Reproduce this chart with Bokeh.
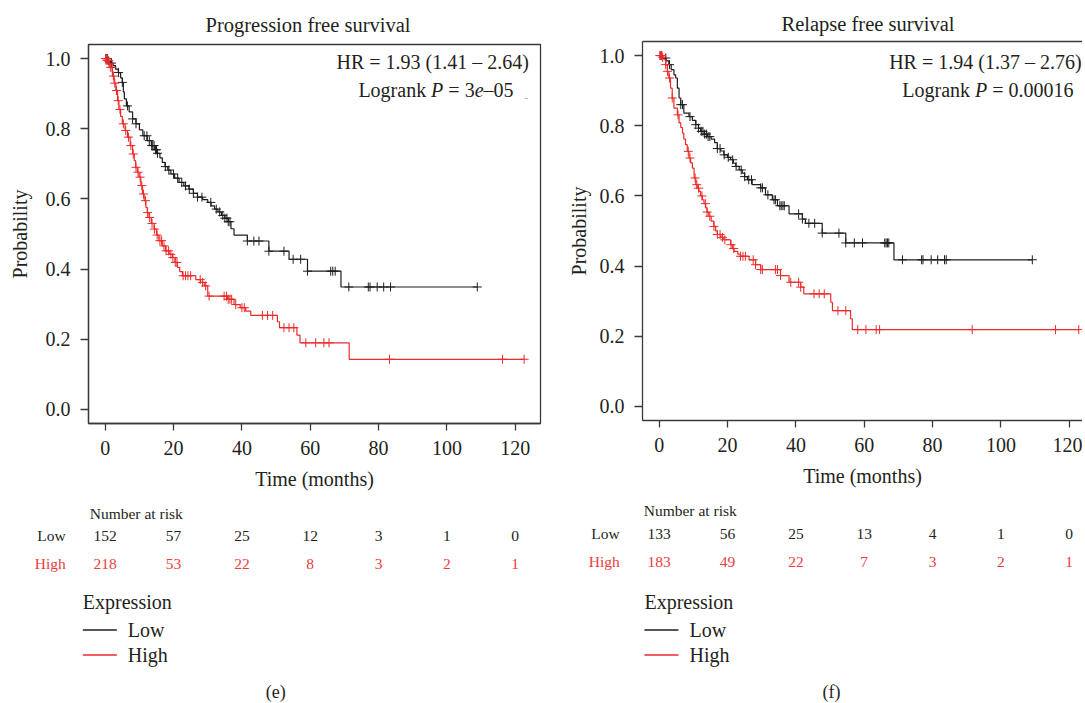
import numpy as np
from bokeh.plotting import figure
from bokeh.layouts import row, column
from bokeh.models import Range1d, FixedTicker, NumeralTickFormatter, LinearAxis
from bokeh.core.properties import value
from bokeh.embed import file_html
from bokeh.resources import INLINE

# ---------------- data ----------------
time_ticks = [0, 20, 40, 60, 80, 100, 120]
prob_ticks = [0.0, 0.2, 0.4, 0.6, 0.8, 1.0]

# (e) Progression free survival
pfs_low_t = [0, 0.8, 1.5, 2.3, 3.0, 3.8, 4.5, 5.0, 5.3, 5.6, 6.2, 7.0, 8.0, 9.0, 10.0, 11.0, 12.3,
             13.5, 14.5, 15.3, 16.0, 16.7, 17.5, 18.3, 19.2, 20.3, 21.6, 23.0, 24.5, 25.8, 27.0,
             28.5, 30.0, 31.0, 32.0, 33.0, 34.0, 35.0, 36.0, 36.8, 37.7, 41.6, 47.9, 53.8, 59.2, 69.0]
pfs_low_s = [1.0, 0.993, 0.987, 0.980, 0.970, 0.960, 0.945, 0.932, 0.905, 0.885, 0.865, 0.848, 0.828,
             0.814, 0.797, 0.780, 0.766, 0.752, 0.740, 0.730, 0.717, 0.704, 0.692, 0.682, 0.671, 0.659,
             0.647, 0.637, 0.628, 0.616, 0.605, 0.598, 0.590, 0.580, 0.571, 0.563, 0.553, 0.545, 0.535,
             0.515, 0.497, 0.480, 0.451, 0.428, 0.394, 0.349]
pfs_low_end = 108.9
pfs_low_cens = [0.3, 0.6, 1.0, 1.8, 3.9, 5.0, 6.5, 8.0, 9.0, 11.4, 12.2, 12.9, 13.6, 13.9, 14.3, 14.7,
                15.0, 15.3, 17.6, 18.6, 20.0, 21.2, 22.4, 23.5, 24.6, 25.8, 27.0, 28.3, 30.9, 32.5, 33.5,
                34.4, 35.0, 35.6, 36.0, 36.5, 41.6, 43.5, 45.0, 47.9, 52.3, 55.0, 57.2, 59.2, 66.0, 66.6,
                67.3, 71.3, 77.0, 77.5, 79.6, 81.5, 83.5, 108.9]

pfs_high_t = [0, 0.5, 1.0, 1.6, 2.1, 2.6, 3.1, 3.6, 4.0, 4.5, 5.0, 5.8, 6.5, 7.3, 8.0, 8.5, 8.9, 9.4,
              9.9, 10.4, 10.9, 11.4, 11.9, 12.3, 12.8, 13.5, 14.3, 15.0, 15.7, 16.7, 17.7, 18.7, 19.7,
              20.4, 21.1, 21.8, 22.6, 26.5, 27.9, 29.0, 30.0, 35.8, 37.7, 39.5, 41.1, 42.6, 50.4, 51.0,
              56.1, 57.0, 71.4]
pfs_high_s = [1.0, 0.995, 0.985, 0.975, 0.950, 0.930, 0.909, 0.880, 0.855, 0.835, 0.814, 0.795, 0.776,
              0.752, 0.728, 0.709, 0.690, 0.676, 0.662, 0.638, 0.614, 0.595, 0.576, 0.561, 0.547, 0.530,
              0.514, 0.497, 0.481, 0.466, 0.452, 0.442, 0.433, 0.419, 0.405, 0.393, 0.381, 0.370, 0.362,
              0.352, 0.323, 0.314, 0.299, 0.290, 0.280, 0.268, 0.250, 0.233, 0.212, 0.190, 0.143]
pfs_high_end = 122.6
pfs_high_cens = [0.1, 0.3, 0.5, 0.8, 1.2, 1.6, 2.0, 2.4, 2.8, 3.3, 3.8, 4.3, 5.3, 6.0, 6.8, 7.5, 8.2,
                 9.0, 9.6, 10.2, 10.7, 11.2, 11.8, 12.4, 13.0, 13.7, 14.4, 15.2, 16.0, 16.5, 17.2, 17.8,
                 18.5, 19.2, 19.8, 20.5, 21.0, 22.8, 23.5, 24.2, 25.0, 27.8, 28.5, 29.4, 30.4, 34.8,
                 35.5, 36.0, 36.5, 37.0, 38.2, 40.0, 40.7, 46.0, 47.5, 49.0, 52.3, 53.8, 55.2, 58.7,
                 61.6, 64.0, 65.5, 83.2, 116.3, 122.6]

pfs_risk_low = [152, 57, 25, 12, 3, 1, 0]
pfs_risk_high = [218, 53, 22, 8, 3, 2, 1]

# (f) Relapse free survival
rfs_low_t = [0, 1.0, 2.0, 2.8, 3.5, 4.3, 4.8, 5.3, 5.8, 6.3, 7.2, 8.7, 9.7, 10.7, 11.5, 12.1, 13.2,
             14.1, 15.2, 16.2, 17.0, 18.0, 18.9, 20.0, 20.9, 21.7, 22.4, 23.4, 24.3, 25.0, 25.8, 27.2,
             29.7, 31.1, 33.1, 34.6, 38.0, 41.9, 42.8, 47.7, 54.6, 68.7]
rfs_low_s = [1.0, 0.993, 0.985, 0.974, 0.960, 0.945, 0.936, 0.907, 0.879, 0.860, 0.836, 0.826, 0.815,
             0.803, 0.793, 0.784, 0.776, 0.769, 0.762, 0.752, 0.735, 0.728, 0.717, 0.710, 0.703, 0.693,
             0.684, 0.674, 0.665, 0.655, 0.646, 0.632, 0.623, 0.603, 0.589, 0.572, 0.549, 0.534, 0.522,
             0.494, 0.466, 0.418]
rfs_low_end = 109.2
rfs_low_cens = [0.3, 0.7, 1.9, 3.0, 6.3, 6.8, 9.0, 10.7, 11.5, 12.3, 12.8, 13.3, 13.8, 14.3, 14.8, 17.0,
                17.8, 19.0, 20.2, 21.5, 22.5, 24.0, 25.0, 26.2, 27.0, 29.7, 30.2, 31.8, 33.6, 34.0, 35.3,
                35.7, 36.2, 36.6, 40.8, 41.9, 43.8, 45.5, 47.7, 52.6, 54.6, 57.1, 59.5, 66.0, 66.4, 66.8,
                67.2, 71.2, 76.8, 77.2, 79.6, 81.5, 83.5, 84.0, 109.2]

rfs_high_t = [0, 0.8, 1.4, 1.9, 2.4, 2.8, 3.3, 3.8, 4.3, 5.3, 5.8, 6.3, 6.8, 7.2, 7.7, 8.2, 8.7, 9.2,
              9.7, 10.2, 10.7, 11.1, 11.6, 12.1, 12.6, 13.1, 13.6, 14.0, 14.5, 15.2, 16.0, 16.5, 17.0,
              18.0, 18.9, 20.9, 21.4, 21.9, 23.0, 23.8, 26.3, 28.2, 29.7, 35.5, 38.0, 41.4, 42.3, 50.2,
              50.7, 56.0, 56.5]
rfs_high_s = [1.0, 0.995, 0.988, 0.974, 0.955, 0.936, 0.907, 0.879, 0.850, 0.831, 0.808, 0.795, 0.779,
              0.762, 0.746, 0.727, 0.708, 0.694, 0.679, 0.651, 0.632, 0.622, 0.613, 0.600, 0.589, 0.578,
              0.566, 0.554, 0.542, 0.528, 0.513, 0.500, 0.490, 0.482, 0.475, 0.461, 0.450, 0.442, 0.434,
              0.428, 0.418, 0.404, 0.390, 0.373, 0.354, 0.340, 0.321, 0.297, 0.273, 0.250, 0.219]
rfs_high_end = 122.8
rfs_high_cens = [0.2, 0.4, 0.7, 1.0, 1.9, 2.4, 3.0, 3.8, 5.5, 8.5, 9.0, 10.5, 11.0, 11.5, 12.5, 13.5,
                 14.0, 14.8, 16.0, 17.0, 17.8, 18.5, 19.2, 21.0, 21.8, 23.8, 24.5, 25.2, 27.5, 28.2,
                 29.7, 30.2, 34.0, 34.6, 35.5, 38.5, 40.8, 41.4, 45.3, 46.8, 48.3, 52.3, 54.6, 58.1,
                 60.5, 63.5, 64.5, 91.6, 116.0, 122.8]

rfs_risk_low = [133, 56, 25, 13, 4, 1, 0]
rfs_risk_high = [183, 49, 22, 7, 3, 2, 1]

# ---------------- style ----------------
FONT = value("Liberation Serif")
FNAME = "Liberation Serif"
TXT = "#231f20"
AX = "#3a3a3a"
BLACK = "#1e1e1e"
RED = "#ec2b2b"
RED_TXT = "#ec3c3c"

X0 = -4.9
FRAME_H = 379
SCALE = 452 / (127.4 - X0)   # px per month (shared by both panels)
TABLE_H = 208


def step_value(times, surv, t):
    idx = np.searchsorted(np.asarray(times), np.asarray(t), side="right") - 1
    return np.asarray(surv)[idx]


def text_piece(p, x, y, s, size, color, align="right", xo=0, yo=0, style="normal"):
    p.text(x=[x], y=[y], text=[s], text_font=FONT, text_font_size=size, text_color=color,
           text_align=align, text_baseline="middle", x_offset=xo, y_offset=yo, text_font_style=style)


def x_end(cfg):
    return X0 + cfg["frame_w"] / SCALE


def km_figure(cfg):
    fw = cfg["frame_w"]
    p = figure(frame_width=fw, frame_height=FRAME_H,
               x_range=Range1d(X0, x_end(cfg)), y_range=Range1d(-0.04, 1.04),
               min_border_left=cfg["bl"], min_border_right=cfg["br"],
               min_border_top=cfg["bt"], min_border_bottom=cfg["bb"],
               toolbar_location=None, output_backend="svg", title=cfg["title"])
    p.frame_align = False
    p.title.text_font = FNAME
    p.title.text_font_size = "20.5px"
    p.title.text_font_style = "normal"
    p.title.text_color = TXT
    p.title.align = "left"
    p.title.offset = cfg["title_off"]
    p.title.standoff = cfg["title_standoff"]
    p.grid.visible = False
    p.outline_line_color = AX if cfg["outline"] else None
    p.outline_line_width = 1.3

    for ax in (p.xaxis[0], p.yaxis[0]):
        ax.axis_line_color = AX
        ax.axis_line_width = 1.3
        ax.major_tick_line_color = AX
        ax.major_tick_line_width = 1.3
        ax.major_tick_in = 0
        ax.minor_tick_line_color = None
        ax.major_label_text_font = FNAME
        ax.major_label_text_font_size = "20px"
        ax.major_label_text_color = TXT
        ax.axis_label_text_font = FNAME
        ax.axis_label_text_font_size = "20px"
        ax.axis_label_text_font_style = "normal"
        ax.axis_label_text_color = TXT
    xa = p.xaxis[0]
    xa.ticker = FixedTicker(ticks=time_ticks)
    xa.axis_label = "Time (months)"
    xa.major_tick_out = 7
    xa.major_label_standoff = 10
    xa.axis_label_standoff = 10
    ya = p.yaxis[0]
    ya.ticker = FixedTicker(ticks=prob_ticks)
    ya.formatter = NumeralTickFormatter(format="0.0")
    ya.axis_label = "Probability"
    ya.major_tick_out = 8
    ya.major_label_standoff = 10
    ya.axis_label_standoff = cfg["ylab_standoff"]

    if not cfg["outline"]:
        top = LinearAxis(ticker=FixedTicker(ticks=[]), major_tick_out=0, major_tick_in=0,
                         major_label_standoff=0, axis_line_color=AX, axis_line_width=1.3,
                         major_label_text_font_size="0px", minor_tick_line_color=None)
        p.add_layout(top, "above")

    for t, s, end, cens, col in cfg["curves"]:
        xs = list(t) + [end]
        ys = list(s) + [s[-1]]
        p.step(x=xs, y=ys, mode="after", line_color=col, line_width=1.2)
        cy = step_value(t, s, cens)
        p.scatter(x=cens, y=cy, marker="cross", size=9, line_color=col, line_width=1.0)

    text_piece(p, 0, 1.04, cfg["hr"], "20px", TXT, "right", cfg["hr_x"], cfg["hr_y"])
    E = cfg["lr_x"]
    for s, off, style in cfg["lr_pieces"]:
        text_piece(p, 0, 1.04, s, "20px", TXT, "right", E - off, cfg["lr_y"], style)
    if cfg.get("stray"):
        text_piece(p, 0, 1.04, "-", "11px", "#a0a0a0", "center", 421, 53)
    return p


def table_figure(cfg):
    w = cfg["bl"] + cfg["frame_w"] + cfg["br"]
    tx0 = X0 - cfg["bl"] / SCALE
    tx1 = tx0 + w / SCALE
    t = figure(width=w, height=TABLE_H, x_range=Range1d(tx0, tx1), y_range=Range1d(TABLE_H, 0),
               min_border_left=0, min_border_right=0, min_border_top=0, min_border_bottom=0,
               toolbar_location=None, output_backend="svg",
               x_axis_type=None, y_axis_type=None)
    t.frame_align = False
    t.outline_line_color = None
    t.grid.visible = False

    ry = cfg["rows"]
    text_piece(t, 0, ry[0], "Number at risk", "15.5px", TXT, "left", -15.5)
    text_piece(t, 0, ry[1], "Low", "15.5px", TXT, "right", -39.5)
    text_piece(t, 0, ry[2], "High", "15.5px", RED_TXT, "right", -39.5)
    t.text(x=time_ticks, y=[ry[1]] * len(time_ticks), text=[str(v) for v in cfg["risk_low"]],
           text_font=FONT, text_font_size="15.5px", text_color=TXT,
           text_align="center", text_baseline="middle")
    t.text(x=time_ticks, y=[ry[2]] * len(time_ticks), text=[str(v) for v in cfg["risk_high"]],
           text_font=FONT, text_font_size="15.5px", text_color=RED_TXT,
           text_align="center", text_baseline="middle")

    lx = cfg["leg_x"]
    text_piece(t, 0, 106, "Expression", "20px", TXT, "left", lx)
    for yy, lab, col in ((134.5, "Low", BLACK), (159.5, "High", RED)):
        t.segment(x0=[lx / SCALE], y0=[yy], x1=[(lx + 34) / SCALE], y1=[yy],
                  line_color=col, line_width=1.3)
        text_piece(t, 0, yy, lab, "20px", TXT, "left", lx + 45)
    text_piece(t, 0, 196, cfg["caption"], "18px", TXT, "center", cfg["cap_x"])
    return t


# Logrank pieces: (text, distance of right edge from line end, style)
lr_e = [("–05", 0, "normal"), ("e", 30, "italic"), ("= 3", 38.9, "normal"),
        ("P", 70.2, "italic"), ("Logrank", 87.4, "normal")]
lr_f = [("= 0.00016", 0, "normal"), ("P", 86.3, "italic"), ("Logrank", 103.5, "normal")]

cfg_e = dict(frame_w=452, bl=88, br=22, bt=44, bb=72, title="Progression free survival", title_off=117,
             title_standoff=18, outline=True, ylab_standoff=12,
             curves=[(pfs_low_t, pfs_low_s, pfs_low_end, pfs_low_cens, BLACK),
                     (pfs_high_t, pfs_high_s, pfs_high_end, pfs_high_cens, RED)],
             hr="HR = 1.93 (1.41 – 2.64)", hr_x=423.6, hr_y=17.3,
             lr_x=408.3, lr_y=45.0, lr_pieces=lr_e, stray=True,
             rows=[17.7, 40.0, 68.0], risk_low=pfs_risk_low, risk_high=pfs_risk_high,
             leg_x=-22.4, caption="(e)", cap_x=170.5)
cfg_f = dict(frame_w=440, bl=80, br=0, bt=41, bb=75, title="Relapse free survival", title_off=139,
             title_standoff=13, outline=False, ylab_standoff=7,
             curves=[(rfs_low_t, rfs_low_s, rfs_low_end, rfs_low_cens, BLACK),
                     (rfs_high_t, rfs_high_s, rfs_high_end, rfs_high_cens, RED)],
             hr="HR = 1.94 (1.37 – 2.76)", hr_x=422.3, hr_y=20.5,
             lr_x=414.3, lr_y=48.0, lr_pieces=lr_f, stray=False,
             rows=[15.0, 38.3, 66.0], risk_low=rfs_risk_low, risk_high=rfs_risk_high,
             leg_x=-14.8, caption="(f)", cap_x=172.2)

left = column(km_figure(cfg_e), table_figure(cfg_e))
right = column(km_figure(cfg_f), table_figure(cfg_f))
layout = row(left, right)

open("out.html", "w").write(file_html(layout, INLINE))
